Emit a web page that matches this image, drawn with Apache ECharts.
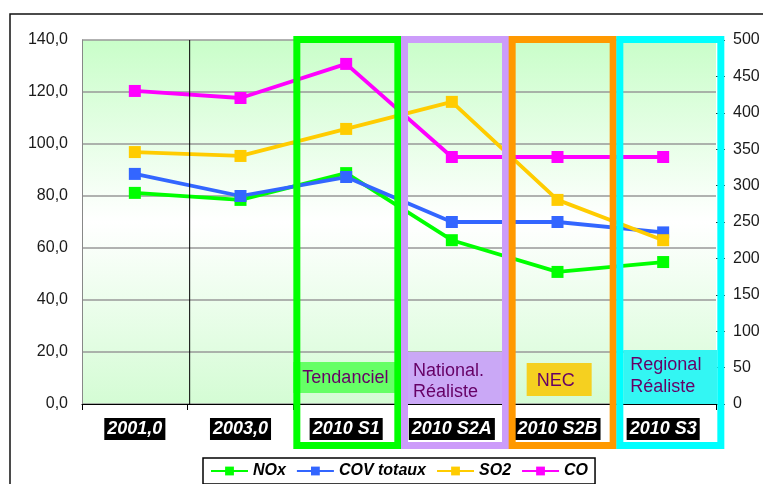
<!DOCTYPE html>
<html>
<head>
<meta charset="utf-8">
<script src="https://cdn.jsdelivr.net/npm/echarts@6/dist/echarts.min.js"></script>
<style>
  html, body { margin: 0; padding: 0; background: #fff; }
  #chart { width: 763px; height: 484px; }
</style>
</head>
<body>
<div id="chart"></div>
<script>
var categories = ['2001,0', '2003,0', '2010 S1', '2010 S2A', '2010 S2B', '2010 S3'];
var nox = [81.2, 78.5, 88.8, 63.0, 50.8, 54.6];
var cov = [88.5, 80.0, 87.3, 70.0, 70.0, 66.0];
var so2 = [96.9, 95.4, 105.8, 116.2, 78.5, 63.0];
var co  = [120.4, 117.7, 130.8, 95.0, 95.0, 95.0];
var leftTicks = { min: 0, max: 140, step: 20 };
var rightTicks = { min: 0, max: 500, step: 50 };
// scenario frames: category index, label, colours
var scenarios = [
  { idx: 2, text: 'Tendanciel', border: '#00ff00' },
  { idx: 3, text: 'National.\nRéaliste', border: '#cc9cfa' },
  { idx: 4, text: 'NEC', border: '#ff9900' },
  { idx: 5, text: 'Regional\nRéaliste', border: '#00ffff' }
];

var FONT = '"Liberation Sans", Arial, sans-serif';
var chart = echarts.init(document.getElementById('chart'));

function lineSeries(name, data, color) {
  return {
    name: name,
    type: 'line',
    data: data,
    symbol: 'rect',
    symbolSize: 12,
    color: color,
    lineStyle: { width: 3.8, color: color },
    itemStyle: { color: color },
    z: 2
  };
}

var option = {
  animation: false,
  grid: {
    left: 82, right: 47, top: 40, bottom: 80,
    show: true,
    borderWidth: 0,
    backgroundColor: new echarts.graphic.LinearGradient(0, 0, 0, 1, [
      { offset: 0, color: '#c9fec9' },
      { offset: 0.5, color: '#ffffff' },
      { offset: 1, color: '#d4fcd4' }
    ])
  },
  legend: {
    left: 203, top: 458,
    padding: [5, 7, 5, 7],
    borderColor: '#000', borderWidth: 1.5,
    itemWidth: 37, itemHeight: 11, itemGap: 10,
    textStyle: { fontFamily: FONT, fontSize: 16, fontWeight: 'bold', fontStyle: 'italic', color: '#000' },
    data: ['NOx', 'COV totaux', 'SO2', 'CO']
  },
  xAxis: {
    type: 'category',
    data: categories,
    boundaryGap: true,
    axisLine: { lineStyle: { color: '#000', width: 1.2 } },
    axisTick: { show: true, interval: 0, length: 6, lineStyle: { color: '#000' } },
    axisLabel: {
      interval: 0, margin: 14,
      color: '#fff', backgroundColor: '#000',
      fontFamily: FONT, fontSize: 18, fontWeight: 'bold', fontStyle: 'italic',
      padding: [1, 3, 0, 3], lineHeight: 21
    }
  },
  yAxis: [{
    type: 'value',
    min: leftTicks.min, max: leftTicks.max, interval: leftTicks.step,
    axisLine: { show: true, lineStyle: { color: '#888' } },
    axisTick: { show: false },
    splitLine: { lineStyle: { color: '#999', width: 1.5 } },
    axisLabel: {
      margin: 14, color: '#1a1a1a', fontFamily: FONT, fontSize: 16,
      formatter: function (v) { return v.toFixed(1).replace('.', ','); }
    }
  }, {
    type: 'value',
    position: 'right',
    min: rightTicks.min, max: rightTicks.max, interval: rightTicks.step,
    axisLine: { show: false },
    axisTick: { show: true, length: 9, lineStyle: { color: '#333' } },
    splitLine: { show: false },
    axisLabel: { margin: 17, color: '#1a1a1a', fontFamily: FONT, fontSize: 16 }
  }],
  series: [
    lineSeries('NOx', nox, '#00ff00'),
    lineSeries('COV totaux', cov, '#3366ff'),
    lineSeries('SO2', so2, '#ffcc00'),
    lineSeries('CO', co, '#ff00ff')
  ]
};
chart.setOption(option);

// frames and scenario labels, placed from the axis scales
var c0 = chart.convertToPixel({ xAxisIndex: 0 }, 0);
var c1 = chart.convertToPixel({ xAxisIndex: 0 }, 1);
var band = c1 - c0;
var yTop = chart.convertToPixel({ yAxisIndex: 0 }, leftTicks.max);
var yZero = chart.convertToPixel({ yAxisIndex: 0 }, 0);
var g = [];

// the single divider between 2001 and 2003
g.push({ type: 'line', z: 3, shape: { x1: c0 + band / 2 + 2, y1: yTop, x2: c0 + band / 2 + 2, y2: yZero },
  style: { stroke: '#000', lineWidth: 1 } });

var txtStyle = { fill: '#660066', font: '18px ' + FONT };

scenarios.forEach(function (s) {
  var c = chart.convertToPixel({ xAxisIndex: 0 }, s.idx);
  var left = c - band / 2 + (s.idx - 2) * 2, right = left + 108;
  var inL = left + 7, inR = right - 7;
  if (s.idx === 2) {
    g.push({ type: 'rect', z: 4, shape: { x: left, y: 362, width: right - left - 6, height: 31 }, style: { fill: '#66ff66' } });
    g.push({ type: 'text', z: 6, style: Object.assign({ x: inL + 2, y: 378, text: s.text, verticalAlign: 'middle' }, txtStyle) });
  } else if (s.idx === 3) {
    g.push({ type: 'rect', z: 4, shape: { x: inL, y: 352, width: inR - inL, height: yZero - 352 }, style: { fill: '#caa8f6' } });
    g.push({ type: 'text', z: 6, style: Object.assign({ x: inL + 5, y: 382, text: s.text, lineHeight: 21, verticalAlign: 'middle' }, txtStyle) });
  } else if (s.idx === 4) {
    g.push({ type: 'rect', z: 4, shape: { x: inL + 11, y: 363, width: 65, height: 33 }, style: { fill: '#f5d020' } });
    g.push({ type: 'text', z: 6, style: Object.assign({ x: inL + 21, y: 381, text: s.text, verticalAlign: 'middle' }, txtStyle) });
  } else {
    g.push({ type: 'rect', z: 4, shape: { x: inL, y: 350, width: inR - inL, height: yZero - 350 }, style: { fill: '#33f6f3' } });
    g.push({ type: 'text', z: 6, style: Object.assign({ x: inL + 7, y: 376, text: s.text, lineHeight: 22, verticalAlign: 'middle' }, txtStyle) });
  }
  g.push({ type: 'rect', z: 7, shape: { x: left + 3.5, y: yTop - 4 + 3.5, width: right - left - 7, height: 449 - (yTop - 4) - 7 },
    style: { fill: null, stroke: s.border, lineWidth: 7 } });
});

// outer chart frame
g.push({ type: 'rect', z: 1, shape: { x: 10, y: 14, width: 800, height: 520 }, style: { fill: null, stroke: '#111', lineWidth: 1.5 } });

chart.setOption({ graphic: g });
</script>
</body>
</html>
